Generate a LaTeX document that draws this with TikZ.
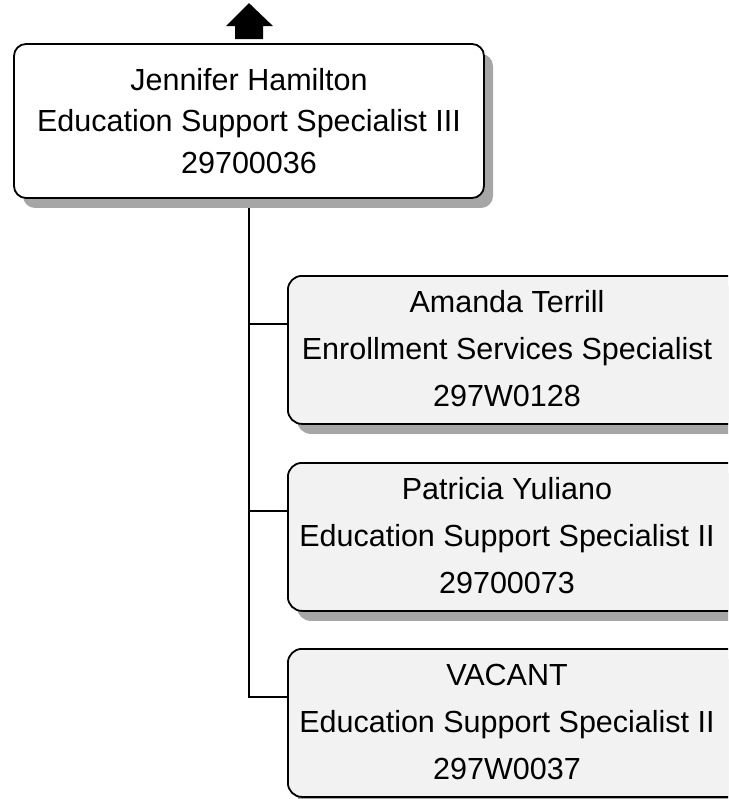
\documentclass[tikz,border=0pt]{standalone}
\usepackage{fontspec}
\setmainfont{Liberation Sans}
\usetikzlibrary{shadows}
\definecolor{shadowgray}{HTML}{A6A6A6}
\definecolor{childfill}{HTML}{F2F2F2}
\pgfdeclarelayer{background}
\pgfsetlayers{background,main}
\begin{document}
\begin{tikzpicture}[x=1pt,y=-1pt,
  boxshadow/.style={drop shadow={shadow xshift=9pt, shadow yshift=-10pt, fill=shadowgray, opacity=1}},
  topbox/.style={draw=black, line width=1.8pt, fill=white, rounded corners=12pt,
    minimum width=470pt, minimum height=154pt, inner sep=0pt, boxshadow},
  childbox/.style={draw=black, line width=1.8pt, fill=childfill, rounded corners=14pt,
    minimum width=470pt, minimum height=148pt, inner sep=0pt, anchor=north west, boxshadow},
  toptext/.style={align=center, inner sep=0pt, font=\fontsize{30.5}{41.5}\selectfont},
  childtext/.style={align=center, inner sep=0pt, font=\fontsize{30.5}{47}\selectfont},
  conn/.style={draw=black, line width=1.8pt}]
\useasboundingbox (0,0) rectangle (728,799);
\clip (0,0) rectangle (728,799);

\node[topbox, toptext] (jh) at (249,121) {Jennifer Hamilton\\Education Support Specialist III\\29700036};

\node[childbox] (c1) at (287,275) {};
\node[childtext] (t1) at (507,349) {Amanda Terrill\\Enrollment Services Specialist\\297W0128};

\node[childbox] (c2) at (287,462) {};
\node[childtext] (t2) at (507,536) {Patricia Yuliano\\Education Support Specialist II\\29700073};

\node[childbox] (c3) at (287,648) {};
\node[childtext] (t3) at (507,722) {VACANT\\Education Support Specialist II\\297W0037};

\coordinate (j1) at ([yshift=-49pt]c1.north west);
\coordinate (j2) at ([yshift=-49pt]c2.north west);
\coordinate (j3) at ([yshift=-49pt]c3.north west);

\begin{pgfonlayer}{background}
\draw[conn] (jh.south) |- (j3);
\draw[conn] (jh.south |- j1) -- (j1);
\draw[conn] (jh.south |- j2) -- (j2);
\end{pgfonlayer}

\fill[black, shift={(jh.north)}] (0,-40) -- (24,-17) -- (14,-17) -- (14,-4) -- (-14,-4) -- (-14,-17) -- (-23,-17) -- cycle;
\end{tikzpicture}
\end{document}
